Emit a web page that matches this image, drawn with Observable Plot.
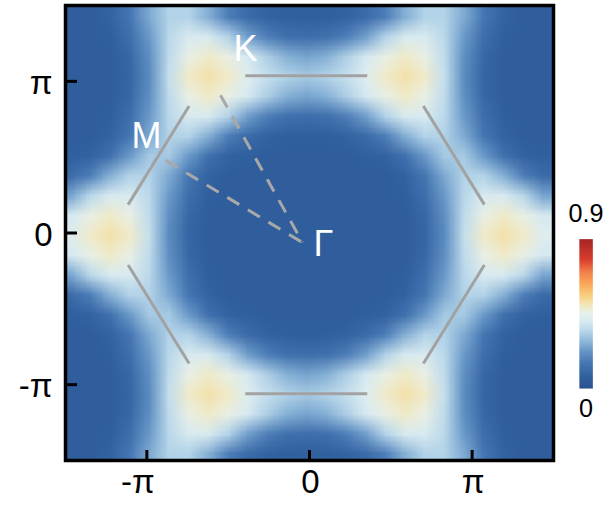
<!DOCTYPE html>
<html>
<head>
<meta charset="utf-8">
<script src="https://cdn.jsdelivr.net/npm/d3@7"></script>
<script src="https://cdn.jsdelivr.net/npm/@observablehq/plot@0.6"></script>
<style>
html, body { margin: 0; padding: 0; background: #fff; }
#wrap { position: relative; width: 614px; height: 508px; }
#bar { position: absolute; left: 560px; top: 200px; }
svg { font-family: "Liberation Sans", Arial, sans-serif; }
</style>
</head>
<body>
<div id="wrap"><div id="main"></div><div id="bar"></div></div>
<script>
const PI = Math.PI;

// Intensity read from the map (hundredths), one row per ky sample (top to bottom),
// 25 kx samples per row (left to right).
const rowKy0 = [43,49,52,49,37,20,9,6,6,6,6,6,6,6,6,6,6,6,9,20,37,49,52,49,43];
const rowKy1 = [40,46,49,46,36,21,10,6,6,6,6,6,6,6,6,6,6,6,10,21,36,46,49,46,40];
const rowKy2 = [25,35,41,41,35,23,12,7,6,6,6,6,6,6,6,6,6,7,12,23,35,41,41,35,25];
const rowKy3 = [11,17,27,34,34,26,15,8,6,6,6,6,6,6,6,6,6,8,15,26,34,34,27,17,11];
const rowKy4 = [7,8,13,23,32,32,23,13,8,7,6,6,6,6,6,7,8,13,23,32,32,23,13,8,7];
const rowKy5 = [6,6,8,15,26,34,34,27,17,11,8,7,7,7,8,11,17,27,34,34,26,15,8,6,6];
const rowKy6 = [6,6,7,12,23,35,41,41,34,24,17,13,12,13,17,24,34,41,41,35,23,12,7,6,6];
const rowKy7 = [6,6,6,10,21,36,46,49,46,40,33,27,25,27,33,40,46,49,46,36,21,10,6,6,6];
const rowKy8 = [6,6,6,9,20,37,49,52,49,43,37,34,32,34,37,43,49,52,49,37,20,9,6,6,6];
const intensityRows = [
  rowKy5, rowKy6, rowKy7, rowKy8, rowKy7, rowKy6, rowKy5, rowKy4, rowKy3, rowKy2, rowKy1,
  rowKy0,
  rowKy1, rowKy2, rowKy3, rowKy4, rowKy5, rowKy6, rowKy7, rowKy8, rowKy7, rowKy6, rowKy5
];
// extent of the sampled map (units of pi)
const mapKxExtent = [-1.5325, 1.4925];
const mapKyExtent = [1.4945, -1.5185];

// Brillouin-zone edge segments (units of pi)
const edgeX1 = [1.075, 0.355, -0.74, -1.115, -0.395, 0.70];
const edgeY1 = [0.187, 1.036, 0.837, -0.211, -1.06, -0.861];
const edgeX2 = [0.70, -0.395, -1.115, -0.74, 0.355, 1.075];
const edgeY2 = [0.837, 1.036, 0.187, -0.861, -1.06, -0.211];

// dashed high-symmetry paths: from K and from M to Gamma (units of pi)
const pathFromX = [-0.547, -0.885];
const pathFromY = [0.908, 0.479];
const pathToX = [-0.043, -0.043];
const pathToY = [-0.063, -0.063];

// point labels
const pointNames = ["K", "M", "Γ"];
const pointX = [-0.393, -1.002, 0.086];
const pointY = [1.211, 0.637, -0.076];

// axes
const axisDomain = [-1.5, 1.5];
const tickValues = [-1, 0, 1];
const tickLabels = ["-π", "0", "π"];

// color bar
const colorTicks = [0, 0.9];
const colorTickLabels = ["0", "0.9"];
const colorStops = [0, 0.07, 0.15, 0.22, 0.29, 0.35, 0.40, 0.45, 0.48, 0.51, 0.56, 0.62, 0.70, 0.78, 0.9];
const colorHex = ["#2c5290", "#31609e", "#4576b2", "#6393c6", "#92bbdb", "#bad8ea", "#d5e9f1",
                  "#e6f0ee", "#eeecd4", "#f2e5b4", "#f9cf80", "#fbad5e", "#f3804a", "#d83c2c", "#a52525"];

const colorOpts = { type: "linear", domain: colorStops, range: colorHex, clamp: true };
const values = intensityRows.flat().map(v => v / 100);
const edges = edgeX1.map((_, i) => ({ x1: edgeX1[i] * PI, y1: edgeY1[i] * PI, x2: edgeX2[i] * PI, y2: edgeY2[i] * PI }));
const paths = pathFromX.map((_, i) => ({ x1: pathFromX[i] * PI, y1: pathFromY[i] * PI, x2: pathToX[i] * PI, y2: pathToY[i] * PI }));
const points = pointNames.map((n, i) => ({ name: n, x: pointX[i] * PI, y: pointY[i] * PI }));
const ticks = tickValues.map((t, i) => ({ v: t * PI, label: tickLabels[i] }));
const dom = axisDomain.map(d => d * PI);
const font = "'Liberation Sans', Arial, sans-serif";

const main = Plot.plot({
  width: 614, height: 508,
  marginLeft: 65, marginRight: 61, marginTop: 5, marginBottom: 48,
  x: { domain: dom, axis: null },
  y: { domain: dom, axis: null },
  color: colorOpts,
  style: { fontFamily: font, background: "white", overflow: "visible" },
  marks: [
    Plot.raster(values, {
      width: 25, height: 23,
      x1: mapKxExtent[0] * PI, x2: mapKxExtent[1] * PI,
      y1: mapKyExtent[0] * PI, y2: mapKyExtent[1] * PI,
      fill: d => d, clip: true
    }),
    Plot.link(edges, { x1: "x1", y1: "y1", x2: "x2", y2: "y2", stroke: "#a2a2a2", strokeWidth: 3 }),
    Plot.link(paths, { x1: "x1", y1: "y1", x2: "x2", y2: "y2", stroke: "#a8a8a8", strokeWidth: 3, strokeDasharray: "14,10" }),
    Plot.text(points, { x: "x", y: "y", text: "name", fill: "white", fontSize: 36 }),
    Plot.frame({ stroke: "black", strokeWidth: 3.5 }),
    Plot.ruleX(ticks, { x: "v", y1: dom[0], y2: dom[0], insetBottom: 10, stroke: "black", strokeWidth: 3 }),
    Plot.ruleY(ticks, { y: "v", x1: dom[0], x2: dom[0], insetLeft: 12, stroke: "black", strokeWidth: 3 }),
    Plot.text(ticks.filter(d => d.v < 0), { x: "v", frameAnchor: "bottom", dy: 32, dx: -9, text: "label", fontSize: 33, fill: "black" }),
    Plot.text(ticks.filter(d => d.v >= 0), { x: "v", frameAnchor: "bottom", dy: 32, dx: 1, text: "label", fontSize: 33, fill: "black" }),
    Plot.text(ticks, { y: "v", frameAnchor: "left", dx: -13, dy: 2, textAnchor: "end", text: "label", fontSize: 33, fill: "black" })
  ]
});
document.getElementById("main").appendChild(main);

const barTicks = colorTicks.map((t, i) => ({ v: t, label: colorTickLabels[i] }));
const bar = Plot.plot({
  width: 60, height: 240,
  marginLeft: 21, marginRight: 24, marginTop: 43, marginBottom: 31,
  x: { domain: [0, 1], axis: null },
  y: { domain: [0, 0.9], axis: null },
  color: colorOpts,
  style: { fontFamily: font, background: "transparent", overflow: "visible" },
  marks: [
    Plot.raster({ x1: 0, x2: 1, y1: 0, y2: 0.9, fill: (x, y) => y, pixelSize: 1 }),
    Plot.text(barTicks.filter(d => d.v === 0.9), { x: () => 0.5, y: "v", dy: -28, text: "label", fontSize: 28, fill: "black" }),
    Plot.text(barTicks.filter(d => d.v === 0), { x: () => 0.5, y: "v", dy: 23, text: "label", fontSize: 28, fill: "black" })
  ]
});
document.getElementById("bar").appendChild(bar);
</script>
</body>
</html>
